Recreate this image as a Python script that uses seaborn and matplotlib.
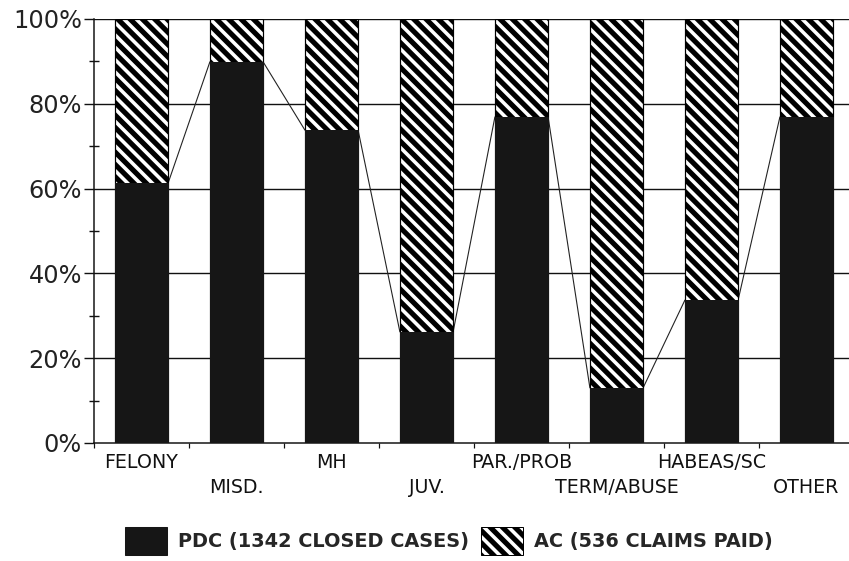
import matplotlib
matplotlib.use("Agg")
import matplotlib.pyplot as plt
import seaborn as sns
import pandas as pd
from matplotlib.patches import Patch
from matplotlib.ticker import FixedLocator

categories = ["FELONY", "MISD.", "MH", "JUV.", "PAR./PROB", "TERM/ABUSE", "HABEAS/SC", "OTHER"]
pdc_share = [61.3, 89.9, 73.8, 26.2, 76.9, 13.0, 33.7, 76.9]
ac_share = [100 - v for v in pdc_share]
y_ticks = [0, 20, 40, 60, 80, 100]
y_tick_labels = ["0%", "20%", "40%", "60%", "80%", "100%"]
legend_labels = ["PDC (1342 CLOSED CASES)", "AC (536 CLAIMS PAID)"]

sns.set_theme(style="white")
plt.rcParams["font.family"] = ["DejaVu Sans"]
plt.rcParams["hatch.linewidth"] = 5.0
plt.rcParams["hatch.color"] = "black"

DPI = 74
fig = plt.figure(figsize=(849 / DPI, 561 / DPI), dpi=DPI)
ax = fig.add_axes([94 / 849, 118 / 561, 760 / 849, 424 / 561])
PX = 72 / DPI  # points per pixel

df = pd.DataFrame({"cat": categories, "pdc": pdc_share,
                   "total": [p + a for p, a in zip(pdc_share, ac_share)]})
W = 0.56
bar_black = "#161616"
HATCH = "\\\\"

sns.barplot(data=df, x="cat", y="total", order=categories, color="white",
            edgecolor="black", linewidth=1.2 * PX, hatch=HATCH, width=W,
            saturation=1, ax=ax, zorder=2)
sns.barplot(data=df, x="cat", y="pdc", order=categories, color=bar_black,
            edgecolor=bar_black, linewidth=1.0 * PX, width=W,
            saturation=1, ax=ax, zorder=3)

# series line connecting the tops of the PDC segments (edge to edge)
for i in range(len(categories) - 1):
    ax.plot([i + W / 2, i + 1 - W / 2], [pdc_share[i], pdc_share[i + 1]],
            color="#222222", lw=1.1 * PX, zorder=1.5)

ax.set_xlim(-0.5, 7.5)
ax.set_ylim(0, 100)
ax.set_xlabel("")
ax.set_ylabel("")

for y in y_ticks[1:]:
    ax.axhline(y, color="#111111", lw=1.4 * PX, zorder=0.5)

ax.yaxis.set_major_locator(FixedLocator(y_ticks))
ax.set_yticklabels(y_tick_labels)
ax.yaxis.set_minor_locator(FixedLocator([10, 30, 50, 70, 90]))
ax.tick_params(axis="y", which="major", direction="out", length=10 * PX, width=1.4 * PX,
               color="#111111", pad=2 * PX, labelsize=24 * PX, labelcolor="#222222", left=True)
ax.tick_params(axis="y", which="minor", direction="inout", length=10 * PX, width=1.4 * PX,
               color="#111111", left=True)

ax.set_xticks(range(len(categories)))
ax.set_xticklabels(categories)
ax.xaxis.set_minor_locator(FixedLocator([i + 0.5 for i in range(-1, 8)]))
ax.tick_params(axis="x", which="major", length=0, pad=10 * PX, labelsize=19 * PX,
               labelcolor="#111111", bottom=True)
ax.tick_params(axis="x", which="minor", direction="out", length=5 * PX, width=1.2 * PX,
               color="#111111", bottom=True)
for i, tick in enumerate(ax.xaxis.get_major_ticks()):
    if i % 2 == 1:
        tick.set_pad(35 * PX)

for s in ["top", "right"]:
    ax.spines[s].set_visible(False)
for s in ["left", "bottom"]:
    ax.spines[s].set_color("#111111")
    ax.spines[s].set_linewidth(1.5 * PX)

handles = [Patch(facecolor=bar_black, edgecolor=bar_black),
           Patch(facecolor="white", edgecolor="black", hatch=HATCH, linewidth=1.0 * PX)]
fs = 19.2
fig.legend(handles, legend_labels, loc="center", bbox_to_anchor=(449 / 849, 20 / 561),
           ncol=2, frameon=False, handlelength=42 / fs, handleheight=37 / fs,
           handletextpad=11 / fs, columnspacing=12 / fs, borderaxespad=0,
           prop={"family": "DejaVu Sans", "weight": "bold", "size": fs * PX})

fig.savefig("out.png", dpi=DPI)
